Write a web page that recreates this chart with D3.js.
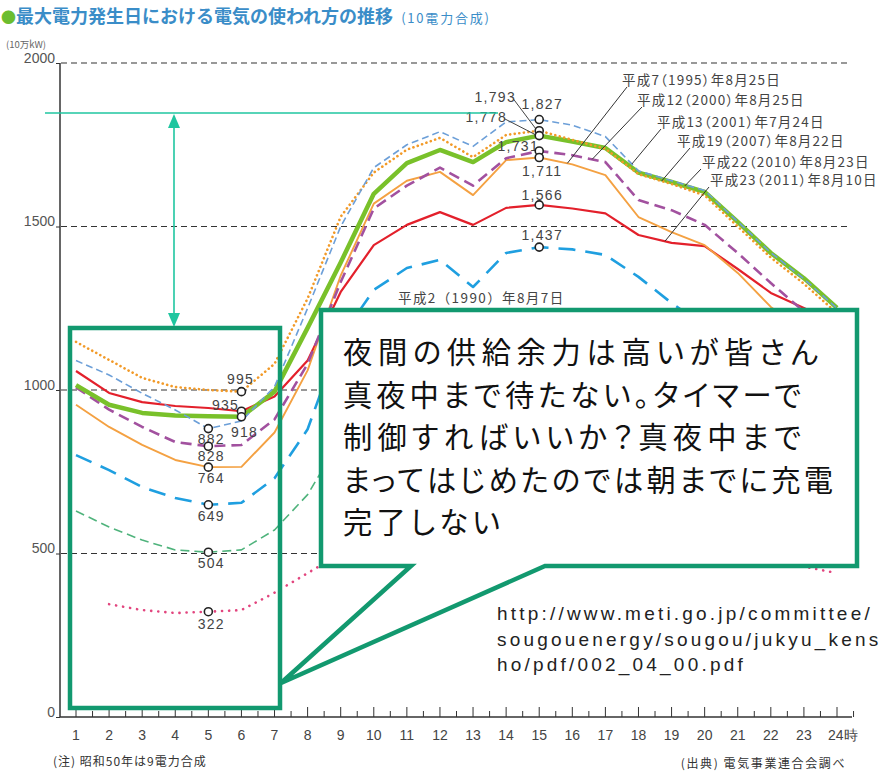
<!DOCTYPE html>
<html><head><meta charset="utf-8">
<script src="https://cdn.jsdelivr.net/npm/d3@7"></script>
<style>
body{margin:0;background:#fff;overflow:hidden;}
svg{display:block;}
text{font-family:"Liberation Sans",Arial,sans-serif;}
.jp{font-family:"Noto Sans CJK JP","Noto Sans",sans-serif;}
</style></head><body>
<svg id="c" width="883" height="772"></svg>
<script>
// ---- data ----
const hours = [1,2,3,4,5,6,7,8,9,10,11,12,13,14,15,16,17,18,19,20,21,22,23,24];
const hourLabels = ["1","2","3","4","5","6","7","8","9","10","11","12","13","14","15","16","17","18","19","20","21","22","23","24時"];
const yTicks = [0,500,1000,1500,2000];

const h13_2001 = [1090,1046,990,939,882,905,1010,1250,1500,1680,1750,1790,1745,1820,1827,1810,1775,1670,1640,1610,1515,1420,1340,1250];
const h19_2007 = [1147,1092,1037,1009,1000,995,1080,1280,1530,1665,1735,1771,1712,1780,1793,1765,1738,1660,1630,1595,1500,1405,1325,1235];
const h22_2010 = [1015,955,930,922,920,918,995,1190,1390,1600,1694,1734,1697,1758,1778,1760,1740,1665,1636,1606,1514,1419,1342,1251];
const h12_2000 = [1008,940,887,841,828,832,910,1080,1330,1555,1625,1680,1625,1709,1731,1718,1697,1581,1550,1505,1419,1327,1240,1160];
const h7_1995  = [955,887,832,786,764,765,870,1060,1350,1570,1640,1667,1596,1703,1711,1690,1657,1529,1483,1443,1358,1254,1180,1110];
const h23_2011 = [1058,991,963,951,945,935,980,1090,1300,1443,1505,1544,1505,1557,1566,1555,1540,1474,1450,1440,1370,1297,1251,1200];
const h2_1990  = [801,755,703,670,649,655,730,880,1160,1306,1373,1398,1315,1419,1437,1430,1413,1346,1266,1195,1130,1060,1000,940];
const s50_1975 = [630,581,541,511,504,511,572,680,850,950,1000,1020,980,1030,1040,1030,1010,960,930,900,850,800,760,700];
const sOld     = [null,345,327,318,322,327,380,440,500,560,590,600,580,610,620,615,600,570,550,540,510,480,460,440];

const seriesValues = [sOld,s50_1975,h2_1990,h23_2011,h7_1995,h12_2000,h22_2010,h19_2007,h13_2001];
const peakLabels = ["1,827","1,793","1,778","1,731","1,711","1,566","1,437"];
const minLabels = ["995","935","918","882","828","764","649","504","322"];
const legendLabels = ["平成7（1995）年8月25日","平成12（2000）年8月25日","平成13（2001）年7月24日","平成19（2007）年8月22日","平成22（2010）年8月23日","平成23（2011）年8月10日"];
const calloutLines = ["夜間の供給余力は高いが皆さん","真夜中まで待たない。タイマーで","制御すればいいか？真夜中まで","まってはじめたのでは朝までに充電","完了しない"];
const urlLines = ["http://www.meti.go.jp/committee/","sougouenergy/sougou/jukyu_kens","ho/pdf/002_04_00.pdf"];

// ---- styles (layout) ----
const styles = [
  {c:"#e2457e", w:2.6, dash:"0.1,7", cap:"round"},
  {c:"#4fb37c", w:1.6, dash:"9,5", cap:"butt"},
  {c:"#1f9fe0", w:2.6, dash:"17,10", cap:"butt"},
  {c:"#e3202b", w:2.2, dash:null, cap:"butt"},
  {c:"#f4a142", w:1.9, dash:null, cap:"butt"},
  {c:"#a2519f", w:2.6, dash:"11,6", cap:"butt"},
  {c:"#79c12a", w:4.5, dash:null, cap:"butt"},
  {c:"#f29a28", w:2.6, dash:"0.1,4.5", cap:"round"},
  {c:"#6c9fd8", w:1.6, dash:"7,4", cap:"butt"}
];
const calloutWidths = [475,458,458,490,157];

const svg = d3.select("#c");
const x = d3.scaleLinear().domain([1,24]).range([76,837]);
const y = d3.scaleLinear().domain([0,2000]).range([717,63]);

// title
const t = svg.append("text").attr("class","jp").attr("x",1).attr("y",23);
t.append("tspan").attr("fill","#6cbd2e").attr("font-size",15).text("●");
t.append("tspan").attr("fill","#3a8dc8").attr("font-size",18).attr("font-weight","bold").text("最大電力発生日における電気の使われ方の推移");
t.append("tspan").attr("fill","#3a8dc8").attr("font-size",13).attr("dx",8).attr("letter-spacing",1.8).text("(10電力合成)");
svg.append("text").attr("class","jp").attr("x",6).attr("y",48).attr("font-size",9.5).attr("fill","#666").text("(10万kW)");

// grid
svg.append("g").selectAll("line").data(yTicks.filter(d=>d>0)).join("line")
  .attr("x1",61).attr("x2",850).attr("y1",d=>y(d)).attr("y2",d=>y(d))
  .attr("stroke","#333").attr("stroke-width",1.2).attr("stroke-dasharray","6,4");

// y axis
const ya = svg.append("g").attr("transform","translate(60,0)")
  .call(d3.axisLeft(y).tickValues(yTicks).tickSize(4).tickFormat(d3.format("d")));
ya.select(".domain").attr("stroke","#333").attr("stroke-width",1.5).attr("d","M0,"+y(2000)+"V"+y(0));
ya.selectAll(".tick line").attr("stroke","#333");
ya.selectAll(".tick text").attr("font-size",14).attr("fill","#555").attr("x",-5).attr("dy","-0.05em")
  .attr("font-family","Liberation Sans, Arial, sans-serif");

// x axis
const xa = svg.append("g");
xa.append("line").attr("x1",60).attr("x2",852).attr("y1",y(0)).attr("y2",y(0)).attr("stroke","#333").attr("stroke-width",1.5);
xa.selectAll("line.maj").data(hours).join("line").attr("class","maj")
  .attr("x1",d=>x(d)).attr("x2",d=>x(d)).attr("y1",y(0)).attr("y2",y(0)-10).attr("stroke","#333");
xa.selectAll("line.min").data(hours).join("line").attr("class","min")
  .attr("x1",d=>x(d+0.5)).attr("x2",d=>x(d+0.5)).attr("y1",y(0)).attr("y2",y(0)-6).attr("stroke","#333");
xa.selectAll("text").data(hours).join("text")
  .attr("x",(d,i)=> i===23 ? x(d)-9 : x(d)).attr("y",740)
  .attr("text-anchor",(d,i)=> i===23 ? "start":"middle")
  .attr("font-size",14).attr("fill","#444").text((d,i)=>hourLabels[i]);

// lines
const line = d3.line().defined(d=>d.v!=null).x(d=>x(d.h)).y(d=>y(d.v));
seriesValues.forEach((vals,i)=>{
  const pts = hours.map((h,j)=>({h, v: vals[j]}));
  const st = styles[i];
  svg.append("path").datum(pts).attr("d",line).attr("fill","none")
    .attr("stroke",st.c).attr("stroke-width",st.w).attr("stroke-linecap",st.cap)
    .attr("stroke-linejoin","round").attr("stroke-dasharray",st.dash);
});

function valAt(vals,h){ const i=Math.floor(h)-1, f=h-Math.floor(h); return vals[i]+(vals[i+1]-vals[i])*f; }

// peak labels (hour 15)
const peakSeries = [h13_2001,h19_2007,h22_2010,h12_2000,h7_1995,h23_2011,h2_1990];
const peakLab = [[3,-11],[-44,-29],[-53,-14],[-21,0],[3,18],[3,-5],[3,-7]];
peakSeries.forEach((s,i)=>{
  const px=x(15), py=y(s[14]);
  if(i===1||i===2){
    svg.append("line").attr("x1",px+peakLab[i][0]+18).attr("y1",py+peakLab[i][1]-3).attr("x2",px-2).attr("y2",py)
      .attr("stroke","#444").attr("stroke-width",1);
  }
  svg.append("text").attr("x",px+peakLab[i][0]).attr("y",py+peakLab[i][1]).attr("text-anchor","middle")
    .attr("font-size",14).attr("letter-spacing",1.3).attr("fill","#444").text(peakLabels[i]);
});
peakSeries.forEach(s=>{
  svg.append("circle").attr("cx",x(15)).attr("cy",y(s[14])).attr("r",4).attr("fill","#fff").attr("stroke","#222").attr("stroke-width",1.6);
});
// min labels
const minSeries = [[h19_2007,6],[h23_2011,6],[h22_2010,6],[h13_2001,5],[h12_2000,5],[h7_1995,5],[h2_1990,5],[s50_1975,5],[sOld,5]];
const minLab = [[-1,-8],[-16,-1],[3,20],[3,15],[3,15],[3,16],[3,16],[3,16],[3,17]];
minSeries.forEach(([s,h],i)=>{
  const px=x(h), py=y(s[h-1]);
  svg.append("text").attr("x",px+minLab[i][0]).attr("y",py+minLab[i][1]).attr("text-anchor","middle")
    .attr("font-size",14).attr("letter-spacing",1.2).attr("fill","#444").text(minLabels[i]);
  svg.append("circle").attr("cx",px).attr("cy",py).attr("r",4).attr("fill","#fff").attr("stroke","#222").attr("stroke-width",1.6);
});

// legend labels with leaders
const legend = [
  {s:h7_1995, h:15.85, tx:622, ty:85, lx:627},
  {s:h12_2000, h:16.6, tx:637, ty:105, lx:642},
  {s:h13_2001, h:17.8, tx:657, ty:127, lx:661},
  {s:h19_2007, h:18.7, tx:677, ty:146, lx:690},
  {s:h22_2010, h:19.4, tx:702, ty:167, lx:701},
  {s:h23_2011, h:18.8, tx:710, ty:185, lx:709}
];
legend.forEach((d,i)=>{
  svg.append("line").attr("x1",d.lx).attr("y1",d.ty+2).attr("x2",x(d.h)).attr("y2",y(valAt(d.s,d.h)))
    .attr("stroke","#333").attr("stroke-width",1);
  svg.append("text").attr("class","jp").attr("x",d.tx).attr("y",d.ty).attr("font-size",13.5).attr("letter-spacing",1.2)
    .attr("fill","#444").style("font-feature-settings","'palt'").text(legendLabels[i]);
});
svg.append("text").attr("class","jp").attr("x",398).attr("y",303).attr("font-size",13.5).attr("letter-spacing",1.4).attr("fill","#444").text("平成2（1990）年8月7日");

// bottom notes
svg.append("text").attr("class","jp").attr("x",53).attr("y",766).attr("font-size",12).attr("letter-spacing",1).attr("fill","#333").text("(注) 昭和50年は9電力合成");
svg.append("text").attr("class","jp").attr("x",846).attr("y",768).attr("text-anchor","end").attr("font-size",12).attr("letter-spacing",1.6).attr("fill","#333").text("(出典) 電気事業連合会調べ");

// annotations
const teal="#1fc6a0", dk="#12996f";
svg.append("line").attr("x1",45).attr("x2",498).attr("y1",113).attr("y2",113).attr("stroke",teal).attr("stroke-width",1.6);
svg.append("line").attr("x1",174).attr("x2",174).attr("y1",124).attr("y2",316).attr("stroke",teal).attr("stroke-width",1.6);
svg.append("path").attr("d","M174,114 L168,128 L180,128 Z").attr("fill",teal);
svg.append("path").attr("d","M174,327 L168,313 L180,313 Z").attr("fill",teal);
svg.append("rect").attr("x",70).attr("y",328).attr("width",210).attr("height",380).attr("fill","none").attr("stroke",dk).attr("stroke-width",4.5);
svg.append("path").attr("d","M321,310 H857 V566 H545 L281,683 L411,566 H321 Z")
  .attr("fill","#fff").attr("stroke",dk).attr("stroke-width",4.5).attr("stroke-linejoin","miter");
calloutLines.forEach((l,i)=>{
  svg.append("text").attr("class","jp").attr("x",343).attr("y",363+i*42.5).attr("font-size",29.3)
    .attr("textLength",calloutWidths[i]).attr("lengthAdjust","spacing")
    .style("font-feature-settings","'palt'").attr("fill","#111").text(l);
});
urlLines.forEach((l,i)=>{
  svg.append("text").attr("x",497).attr("y",620+i*25.5).attr("font-size",19)
    .attr("font-family","DejaVu Sans, sans-serif").attr("letter-spacing",3.2)
    .attr("fill","#222").text(l);
});
</script>
</body></html>
